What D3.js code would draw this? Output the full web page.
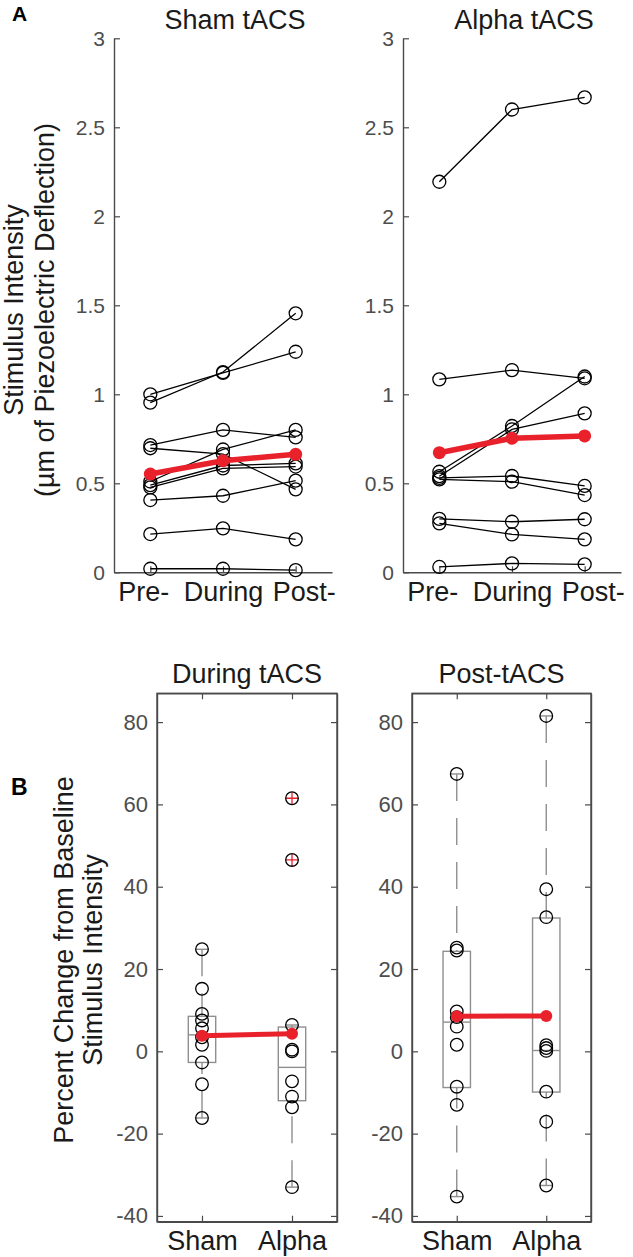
<!DOCTYPE html>
<html><head><meta charset="utf-8">
<script src="https://cdn.jsdelivr.net/npm/d3@7/dist/d3.min.js"></script>
<style>
body{margin:0;background:#fff}
text{font-family:"Liberation Sans", Arial, Helvetica, sans-serif}
</style>
</head><body>
<svg id="chart" width="633" height="1257"></svg>
<script>
// ---------- Panel A data ----------
const timepoints = ["Pre-", "During", "Post-"];
const shamIntensity = [
  [1.00, 1.120, 1.239],
  [0.953, 1.125, 1.455],
  [0.715, 0.800, 0.758],
  [0.697, 0.664, 0.466],
  [0.510, 0.690, 0.800],
  [0.490, 0.600, 0.612],
  [0.477, 0.584, 0.594],
  [0.406, 0.430, 0.515],
  [0.215, 0.247, 0.185],
  [0.020, 0.020, 0.012]
];
const alphaIntensity = [
  [2.194, 2.600, 2.668],
  [1.084, 1.136, 1.090],
  [0.565, 0.822, 1.100],
  [0.540, 0.803, 0.893],
  [0.530, 0.541, 0.485],
  [0.522, 0.509, 0.434],
  [0.300, 0.284, 0.298],
  [0.275, 0.213, 0.185],
  [0.030, 0.050, 0.045]
];
const shamMeanIntensity = [0.552, 0.627, 0.663];
const alphaMeanIntensity = [0.672, 0.753, 0.766];
const intensityTicks = [0, 0.5, 1, 1.5, 2, 2.5, 3];

// ---------- Panel B data ----------
const groups = ["Sham", "Alpha"];
const duringSham  = [24.8, 15.2, 9.1, 7.5, 5.6, 3.4, 1.6, -2.7, -8.0, -16.2];
const duringAlpha = [61.5, 46.5, 6.4, 0.4, 0.0, -7.3, -11.0, -13.6, -33.0];
const postSham    = [67.4, 25.2, 24.5, 9.7, 8.3, 6.0, 1.6, -8.6, -13.0, -35.3];
const postAlpha   = [81.5, 39.4, 32.6, 1.5, 0.8, 0.1, -9.8, -17.1, -32.6];
// box stats: [lower whisker, q1, median, q3, upper whisker]
const duringShamBox  = [-16.2, -2.7, 4.0, 8.5, 24.8];
const duringAlphaBox = [-33.0, -12.0, -3.9, 5.9, 6.4];
const postShamBox    = [-35.3, -8.8, 7.1, 24.3, 67.4];
const postAlphaBox   = [-32.6, -9.9, 0.2, 32.4, 81.5];
const duringMean = [3.8, 4.3];
const postMean   = [8.5, 8.6];
const changeTicks = [-40, -20, 0, 20, 40, 60, 80];

// ---------- style ----------
const AX = "#4a4a4a", TICKTXT = "#4d4d4d", RED = "#e8212b", BOXC = "#8f8f8f";
const svg = d3.select("#chart");
svg.append("rect").attr("width", 633).attr("height", 1257).attr("fill", "#fff");

function styleAxis(g, fs) {
  g.select(".domain").attr("stroke", AX).attr("stroke-width", 1.4);
  g.selectAll(".tick line").attr("stroke", AX).attr("stroke-width", 1.2);
  g.selectAll(".tick text").attr("fill", TICKTXT).style("font-size", fs + "px")
    .style("font-family", '"Liberation Sans", Arial, sans-serif');
}

// ---------- Panel A ----------
function drawTop(x0, x1, data, means, title, titleX) {
  const y = d3.scaleLinear().domain([0, 3]).range([572.3, 38.3]);
  const x = d3.scalePoint().domain(timepoints).range([x0, x1]).padding(0.5);
  const g = svg.append("g");

  const ya = g.append("g").attr("transform", `translate(${x0},0)`)
    .call(d3.axisLeft(y).tickValues(intensityTicks).tickFormat(d => String(d))
      .tickSizeInner(-6).tickSizeOuter(0).tickPadding(9));
  styleAxis(ya, 21);

  const xa = g.append("g").attr("transform", `translate(0,${y(0)})`)
    .call(d3.axisBottom(x).tickSizeInner(-6).tickSizeOuter(0).tickPadding(10));
  styleAxis(xa, 27);
  xa.selectAll(".tick text").attr("fill", "#1a1a1a")
    .attr("dx", d => d === "Pre-" ? -7 : (d === "Post-" ? 8 : 0));

  const line = d3.line().x((d, i) => x(timepoints[i])).y(d => y(d));
  data.forEach(s => {
    g.append("path").attr("d", line(s)).attr("fill", "none")
      .attr("stroke", "#000").attr("stroke-width", 1.3);
    g.selectAll(null).data(s).enter().append("circle")
      .attr("cx", (d, i) => x(timepoints[i])).attr("cy", d => y(d)).attr("r", 6.5)
      .attr("fill", "none").attr("stroke", "#000").attr("stroke-width", 1.3);
  });
  g.append("path").attr("d", line(means)).attr("fill", "none")
    .attr("stroke", RED).attr("stroke-width", 5.5).attr("stroke-linecap", "round");
  g.selectAll(null).data(means).enter().append("circle")
    .attr("cx", (d, i) => x(timepoints[i])).attr("cy", d => y(d)).attr("r", 6.5)
    .attr("fill", RED);

  g.append("text").attr("x", titleX).attr("y", 29).attr("text-anchor", "middle")
    .attr("fill", "#1a1a1a").style("font-size", "27px").text(title);
}

drawTop(114, 332, shamIntensity, shamMeanIntensity, "Sham tACS", 235);
drawTop(403, 621, alphaIntensity, alphaMeanIntensity, "Alpha tACS", 524);

// ---------- Panel B ----------
function drawBottom(x0, x1, series, boxes, means, title) {
  const top = 693.3, bottom = 1221.7;
  const y = d3.scaleLinear().domain([-41.4, 87]).range([bottom, top]);
  const x = d3.scalePoint().domain(groups).range([x0, x1]).padding(0.5);
  const g = svg.append("g");

  const la = g.append("g").attr("transform", `translate(${x0},0)`)
    .call(d3.axisLeft(y).tickValues(changeTicks).tickFormat(d => String(d))
      .tickSizeInner(-6).tickSizeOuter(0).tickPadding(9));
  styleAxis(la, 22);
  const ra = g.append("g").attr("transform", `translate(${x1},0)`)
    .call(d3.axisRight(y).tickValues(changeTicks).tickSizeInner(-6).tickSizeOuter(0).tickFormat(""));
  styleAxis(ra, 22);
  const ta = g.append("g").attr("transform", `translate(0,${top})`)
    .call(d3.axisTop(x).tickSizeInner(-6).tickSizeOuter(0).tickFormat(""));
  styleAxis(ta, 22);
  const ba = g.append("g").attr("transform", `translate(0,${bottom})`)
    .call(d3.axisBottom(x).tickSizeInner(-6).tickSizeOuter(0).tickPadding(9));
  styleAxis(ba, 27);
  ba.selectAll(".tick text").attr("fill", "#1a1a1a");

  const hw = 13.7, cap = 6.5;
  groups.forEach((grp, gi) => {
    const cx = x(grp), b = boxes[gi];
    // whiskers drawn from the ends toward the box
    [[b[4], b[3]], [b[0], b[1]]].forEach(([end, edge]) => {
      g.append("line").attr("x1", cx).attr("x2", cx).attr("y1", y(end)).attr("y2", y(edge))
        .attr("stroke", BOXC).attr("stroke-width", 1.4).attr("stroke-dasharray", "27,17");
      g.append("line").attr("x1", cx - cap).attr("x2", cx + cap).attr("y1", y(end)).attr("y2", y(end))
        .attr("stroke", BOXC).attr("stroke-width", 1.4);
    });
    g.append("rect").attr("x", cx - hw).attr("width", 2 * hw)
      .attr("y", y(b[3])).attr("height", y(b[1]) - y(b[3]))
      .attr("fill", "none").attr("stroke", BOXC).attr("stroke-width", 1.4);
    g.append("line").attr("x1", cx - hw).attr("x2", cx + hw).attr("y1", y(b[2])).attr("y2", y(b[2]))
      .attr("stroke", BOXC).attr("stroke-width", 1.4);
    // outliers
    series[gi].filter(v => v > b[4] || v < b[0]).forEach(v => {
      g.append("path").attr("d", `M${cx - 6},${y(v)}H${cx + 6}M${cx},${y(v) - 6}V${y(v) + 6}`)
        .attr("stroke", RED).attr("stroke-width", 1.3);
    });
    g.selectAll(null).data(series[gi]).enter().append("circle")
      .attr("cx", cx).attr("cy", d => y(d)).attr("r", 6.3)
      .attr("fill", "none").attr("stroke", "#000").attr("stroke-width", 1.3);
  });

  g.append("rect").attr("x", x0).attr("y", top).attr("width", x1 - x0).attr("height", bottom - top)
    .attr("fill", "none").attr("stroke", AX).attr("stroke-width", 1.4);

  g.append("path").attr("d", d3.line().x((d, i) => x(groups[i])).y(d => y(d))(means))
    .attr("fill", "none").attr("stroke", RED).attr("stroke-width", 5);
  g.selectAll(null).data(means).enter().append("circle")
    .attr("cx", (d, i) => x(groups[i])).attr("cy", d => y(d)).attr("r", 6).attr("fill", RED);

  g.append("text").attr("x", (x0 + x1) / 2).attr("y", 683).attr("text-anchor", "middle")
    .attr("fill", "#1a1a1a").style("font-size", "27px").text(title);
}

drawBottom(157, 337, [duringSham, duringAlpha], [duringShamBox, duringAlphaBox], duringMean, "During tACS");
drawBottom(412, 591, [postSham, postAlpha], [postShamBox, postAlphaBox], postMean, "Post-tACS");

// ---------- axis labels & panel letters ----------
function yLabel(cy, lines, xs) {
  lines.forEach((t, i) => {
    svg.append("text").attr("transform", `translate(${xs[i]},${cy}) rotate(-90)`)
      .attr("text-anchor", "middle").attr("fill", "#1a1a1a").style("font-size", "27px").text(t);
  });
}
yLabel(310, ["Stimulus Intensity", "(\u00b5m of Piezoelectric Deflection)"], [23, 54]);
yLabel(960, ["Percent Change from Baseline", "Stimulus Intensity"], [73, 102]);

svg.append("text").attr("x", 12).attr("y", 21).attr("fill", "#000")
  .style("font-size", "21px").style("font-weight", "bold").text("A");
svg.append("text").attr("x", 11).attr("y", 795).attr("fill", "#000")
  .style("font-size", "23px").style("font-weight", "bold").text("B");
</script>
</body></html>
